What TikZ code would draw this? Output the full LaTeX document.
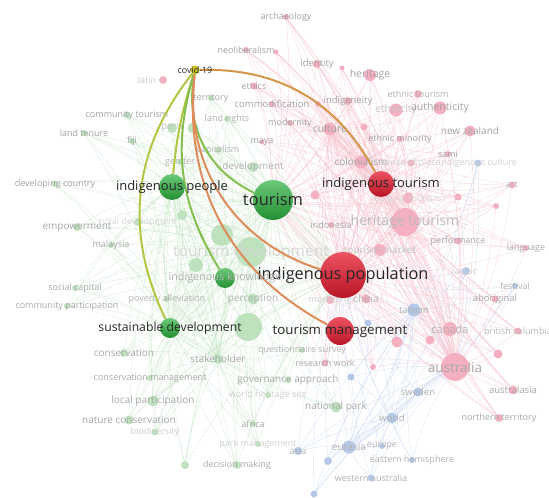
\documentclass[tikz,border=0pt]{standalone}
\usepackage{fontspec}
\setmainfont{Open Sans}

\definecolor{pinkdot}{RGB}{244,176,192}
\definecolor{greendot}{RGB}{190,226,190}
\definecolor{bluedot}{RGB}{180,200,232}
\definecolor{pinkline}{RGB}{243,186,200}
\definecolor{greenline}{RGB}{190,226,190}
\definecolor{blueline}{RGB}{190,208,238}
\definecolor{vosgreen}{RGB}{44,178,62}
\definecolor{vosred}{RGB}{230,26,46}
\definecolor{covidyellow}{RGB}{204,196,40}
\definecolor{linkyg}{RGB}{178,198,66}
\definecolor{linkg}{RGB}{132,192,80}
\definecolor{linkor}{RGB}{222,140,90}
\definecolor{linkbr}{RGB}{212,150,72}

\pgfdeclarelayer{links}
\pgfdeclarelayer{front}
\pgfsetlayers{links,main,front}

\begin{document}
\begin{tikzpicture}[
    x=1pt, y=1pt,
    dot/.style={circle,inner sep=0pt,minimum size=#1},
    gball/.style={circle,inner sep=0pt,minimum size=#1,top color=vosgreen!70!white,bottom color=vosgreen!80!black},
    rball/.style={circle,inner sep=0pt,minimum size=#1,top color=vosred!75!white,bottom color=vosred!80!black},
    kw/.style={font=\fontsize{#1}{#1}\selectfont,text=black!85},
    plink/.style={draw=pinkline,line width=0.5pt,opacity=0.45},
    glink/.style={draw=greenline,line width=0.5pt,opacity=0.45},
    blink/.style={draw=blueline,line width=0.5pt,opacity=0.45},
    hl/.style={line width=2pt}
    ]

    \useasboundingbox (0,0) rectangle (549,-498);

    % highlighted keywords:
    \begin{pgfonlayer}{front}
    \node (covid) at (195,-70) [dot=9,fill=covidyellow,label={[kw=8.9]center:covid-19}] {};
    \node (indpeople) at (172,-187) [gball=26,label={[kw=13]center:indigenous people}] {};
    \node (tourism) at (273,-200) [gball=40,label={[kw=16.5]center:tourism}] {};
    \node (indtour) at (381,-184) [rball=26,label={[kw=13]center:indigenous tourism}] {};
    \node (indpop) at (343,-275) [rball=46,label={[kw=16.3]center:indigenous population}] {};
    \node (indknow) at (225,-278) [gball=20,label={[kw=10.8,text=black!30]center:indigenous knowledge}] {};
    \node (susdev) at (170,-328) [gball=20,label={[kw=12.2]center:sustainable development}] {};
    \node (tourmgmt) at (340,-331) [rball=28,label={[kw=13.3]center:tourism management}] {};
    \end{pgfonlayer}

    % pink cluster:
    \xdef\pinknames{indpop,indtour,tourmgmt}
    \foreach \nm/\x/\y/\sz/\fs/\sh/\txt in {arch/286/17/6/9/36/archaeology,
      neolib/246/50/6/9/36/neoliberalism,
      pka/276/52/5/9/36/{},
      ethics/254/86/7/9/36/ethics,
      commod/272/104/6/9.5/36/commodification,
      identity/317/64/8/9.5/36/identity,
      pkb/342/68/5/9/36/{},
      heritage/370/75/12/10.5/36/heritage,
      ethtour/418/94/8/9/30/ethnic tourism,
      indigeneity/348/101/8/9.5/36/indigeneity,
      pkc/318/104/6/9/36/{},
      ethnicity/396/110/13/10.5/22/ethnicity,
      authentic/440/108/13/10.5/36/authenticity,
      modernity/290/123/6/9/36/modernity,
      culture/330/129/13/10.5/36/culture,
      pkd/364/127/7/9/36/{},
      newzealand/470/131/11/10/36/new zealand,
      ethmin/400/139/6/9/36/ethnic minority,
      maya/262/142/5/9/36/maya,
      sami/448/154/6/9/36/sami,
      colonial/361/162/13/10/36/colonialism,
      sense/411/163/7/9/18/sense of place,
      art/512/185/7/9/30/art,
      pkg/315/195/9/9/36/{},
      pkf/458/197/7/9/36/{},
      pke/496/206/6/9/36/{},
      cultour/408/198/11/9/16/cultural tourism,
      heritour/405/222/28/14/27/heritage tourism,
      indonesia/331/225/6/9/34/indonesia,
      perform/458/241/7/9/34/performance,
      language/526/248/6/9/34/language,
      tourmark/380/250/12/10/24/tourism market,
      aborig/495/299/7/9.5/34/aboriginal,
      marketing/330/300/8/9/18/marketing,
      china/366/299/9/10/30/china,
      canada/450/329/14/11/30/canada,
      bc/518/331/7/9/28/british columbia,
      pkh/430/340/9/9/36/{},
      pki/397/342/11/9/36/{},
      research/325/363/7/9/34/research work,
      australia/455/367/28/13.5/34/australia,
      pkj/498/354/9/9/36/{},
      pkk/373/367/6/9/36/{},
      australas/513/390/9/9.5/34/australasia,
      northter/499/418/8/9/34/northern territory}
    {
      \node (\nm) at (\x,-\y) [dot=\sz,fill=pinkdot,label={[font=\fontsize{\fs}{\fs}\selectfont,text=black!\sh]center:\txt}] {};
      \xdef\pinknames{\pinknames,\nm}
    }
    \node (latin) at (163,-80) [dot=8,fill=pinkdot] {};
    \node (latinlabel) at (147,-80) [font=\fontsize{9}{9}\selectfont,text=black!20] {latin};

    % green cluster:
    \xdef\greennames{tourism,indpeople,susdev,indknow}
    \foreach \nm/\x/\y/\sz/\fs/\sh/\txt in {territory/211/98/6/9/34/territory,
      commtour/127/115/7/9/36/community tourism,
      landten/84/133/6/9/36/land tenure,
      fiji/132/141/6/9/36/fiji,
      peru/172/128/10/10/24/peru,
      gna/193/128/11/9/36/{},
      landright/227/119/6/9/30/land rights,
      capital/218/150/6/9/30/capitalism,
      gender/180/162/6/9/30/gender,
      develop/253/167/10/10/30/development,
      devcountry/55/184/6/9/36/developing country,
      ruraldev/138/222/8/9/16/rural development,
      empower/77/227/8/10/34/empowerment,
      malaysia/111/245/6/9/34/malaysia,
      gnb/222/235/22/9/36/{},
      gnc/196/265/14/9/36/{},
      gnd/248/327/28/9/36/{},
      gne/182/215/10/9/36/{},
      tourdev/251/252/30/15.5/16/tourism development,
      socialcap/75/288/6/9/34/social capital,
      commpart/67/306/6/9/34/community participation,
      poverty/167/299/6/9/30/poverty alleviation,
      percept/253/299/11/10/30/perception,
      conserv/124/353/8/10/34/conservation,
      stake/218/359/10/10/34/stakeholder,
      consmgmt/150/378/6/9/34/conservation management,
      locpart/153/401/11/10/34/local participation,
      natcons/129/420/9/10/34/nature conservation,
      biodiv/155/432/7/9/20/biodiversity,
      africa/253/424/6/9/34/africa,
      parkmgmt/258/444/6/9/18/park management,
      decision/237/465/8/9/34/decision making,
      gnf/185/465/8/9/36/{},
      quest/302/350/6/9/30/questionnaire survey,
      govern/288/380/6/10/34/governance approach,
      whs/268/395/6/9/18/world heritage site,
      natpark/336/407/11/10/34/national park}
    {
      \node (\nm) at (\x,-\y) [dot=\sz,fill=greendot,label={[font=\fontsize{\fs}{\fs}\selectfont,text=black!\sh]center:\txt}] {};
      \xdef\greennames{\greennames,\nm}
    }

    % blue cluster:
    \xdef\bluenames{eurasia}
    \foreach \nm/\x/\y/\sz/\fs/\sh/\txt in {indcult/478/163/7/9/18/indigenous culture,
      arctic/466/271/8/9/20/arctic,
      festival/515/286/6/9/30/festival,
      taiwan/414/310/13/9.5/30/taiwan,
      bla/368/323/7/9/36/{},
      blb/351/377/7/9/36/{},
      sweden/418/392/9/9.5/30/sweden,
      world/392/418/11/9.5/30/world,
      asia/298/451/8/9/30/asia,
      europe/382/446/6/9/30/europe,
      easthem/412/460/6/9/30/eastern hemisphere,
      blc/328/461/8/9/36/{},
      westaus/371/478/7/9/30/western australia,
      bld/314/494/7/9/36/{}}
    {
      \node (\nm) at (\x,-\y) [dot=\sz,fill=bluedot,label={[font=\fontsize{\fs}{\fs}\selectfont,text=black!\sh]center:\txt}] {};
      \xdef\bluenames{\bluenames,\nm}
    }
    \node (eurasia) at (349,-447) [dot=13,fill=bluedot,label={[font=\fontsize{10}{10}\selectfont,text=black!30]center:eurasia}] {};

    % covid-19 links:
    \draw [hl,draw=linkyg] (covid) to [bend right=32] (susdev);
    \draw [hl,draw=linkyg] (covid) to [bend right=6] (indpeople);
    \draw [hl,draw=linkg] (covid) to [bend right=24] (indknow);
    \draw [hl,draw=linkg] (covid) to [bend right=38] (tourism);
    \draw [hl,draw=linkor] (covid) to [bend right=40] (indpop);
    \draw [hl,draw=linkor] (covid) to [bend right=34] (tourmgmt);
    \draw [hl,draw=linkbr] (covid) to [bend left=32] (indtour);

    % faint links:
    \begin{pgfonlayer}{links}
    \foreach \a in \pinknames
    \foreach \b in {indpop,indtour,heritour,australia,culture,colonial,tourism}
    {\ifx\a\b\else\draw [plink] (\a) to [bend left=8] (\b);\fi}

    \foreach \a in \greennames
    \foreach \b in {tourism,tourdev,indpeople,susdev,stake,indpop}
    {\ifx\a\b\else\draw [glink] (\a) to [bend left=8] (\b);\fi}

    \foreach \a in \bluenames
    \foreach \b in {eurasia,world,taiwan,australia,indpop}
    {\ifx\a\b\else\draw [blink] (\a) to [bend left=8] (\b);\fi}
    \end{pgfonlayer}

  \end{tikzpicture}
\end{document}
